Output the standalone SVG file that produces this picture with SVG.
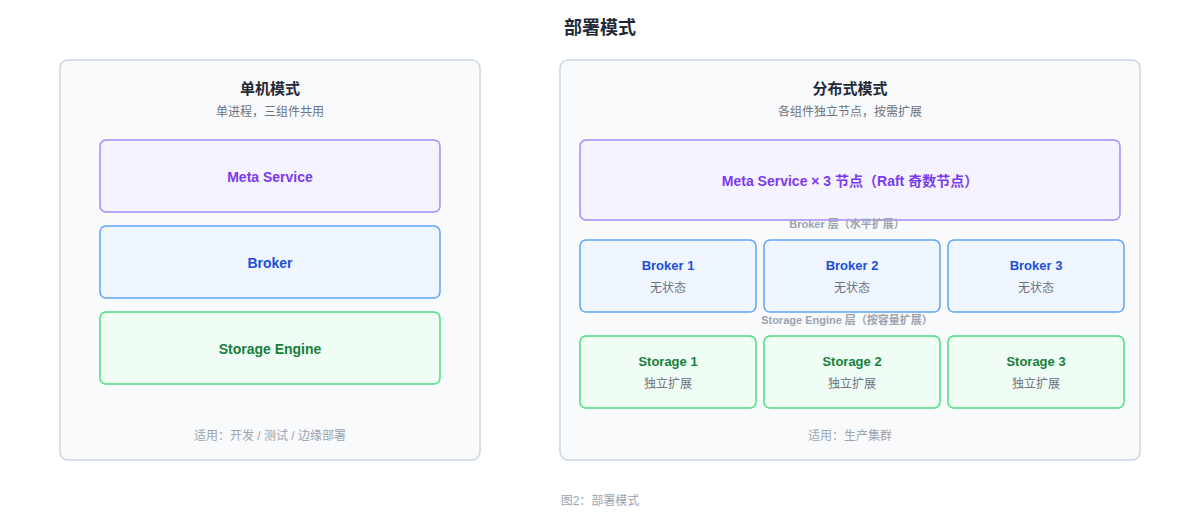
<svg xmlns="http://www.w3.org/2000/svg" width="1200" height="520" viewBox="0 0 1200 520">
<style>
text{font-family:"Liberation Sans","Noto Sans CJK SC",sans-serif;text-anchor:middle}
.panel{fill:#f8fafc;stroke:#cbd5e1;stroke-width:1.5}
.meta{fill:#f5f3ff;stroke:#a78bfa;stroke-width:1.5}
.brk{fill:#eff6ff;stroke:#60a5fa;stroke-width:1.5}
.sto{fill:#f0fdf4;stroke:#4ade80;stroke-width:1.5}
.h{font-size:15px;font-weight:bold;fill:#1f2937}
.sub{font-size:12px;fill:#6b7280}
.tm{font-size:14px;font-weight:bold;fill:#7c3aed}
.tb{font-size:14px;font-weight:bold;fill:#1d4ed8}
.ts{font-size:14px;font-weight:bold;fill:#15803d}
.t2{font-size:12px;fill:#6b7280}
.lay{font-size:11px;font-weight:bold;fill:#9ca3af}
.foot{font-size:12px;fill:#9ca3af}
</style>
<rect width="1200" height="520" fill="#fff"/>
<text x="600" y="34" style="font-size:18px;font-weight:bold;fill:#1f2937">部署模式</text>
<g id="standalone">
<rect class="panel" x="60" y="60" width="420" height="400" rx="8"/>
<text class="h" x="270" y="94">单机模式</text>
<text class="sub" x="270" y="116">单进程，三组件共用</text>
<text class="foot" x="270" y="440">适用：开发 / 测试 / 边缘部署</text>
</g>
<g id="s-meta"><rect class="meta" x="100" y="140" width="340" height="72" rx="6"/><text class="tm" x="270" y="182">Meta Service</text></g>
<g id="s-broker"><rect class="brk" x="100" y="226" width="340" height="72" rx="6"/><text class="tb" x="270" y="268">Broker</text></g>
<g id="s-storage"><rect class="sto" x="100" y="312" width="340" height="72" rx="6"/><text class="ts" x="270" y="354">Storage Engine</text></g>
<g id="distributed">
<rect class="panel" x="560" y="60" width="580" height="400" rx="8"/>
<text class="h" x="850" y="94">分布式模式</text>
<text class="sub" x="850" y="116">各组件独立节点，按需扩展</text>
<text class="foot" x="850" y="440">适用：生产集群</text>
</g>
<g id="d-meta"><rect class="meta" x="580" y="140" width="540" height="80" rx="6"/><text class="tm" x="850" y="186">Meta Service × 3 节点（Raft 奇数节点）</text></g>
<g id="broker-layer"><text class="lay" x="847" y="228">Broker 层（水平扩展）</text></g>
<g id="b1"><rect class="brk" x="580" y="240" width="176" height="72" rx="6"/><text class="tb" x="668" y="270" style="font-size:13px">Broker 1</text><text class="t2" x="668" y="292">无状态</text></g>
<g id="b2"><rect class="brk" x="764" y="240" width="176" height="72" rx="6"/><text class="tb" x="852" y="270" style="font-size:13px">Broker 2</text><text class="t2" x="852" y="292">无状态</text></g>
<g id="b3"><rect class="brk" x="948" y="240" width="176" height="72" rx="6"/><text class="tb" x="1036" y="270" style="font-size:13px">Broker 3</text><text class="t2" x="1036" y="292">无状态</text></g>
<g id="storage-layer"><text class="lay" x="847" y="324">Storage Engine 层（按容量扩展）</text></g>
<g id="st1"><rect class="sto" x="580" y="336" width="176" height="72" rx="6"/><text class="ts" x="668" y="366" style="font-size:13px">Storage 1</text><text class="t2" x="668" y="388">独立扩展</text></g>
<g id="st2"><rect class="sto" x="764" y="336" width="176" height="72" rx="6"/><text class="ts" x="852" y="366" style="font-size:13px">Storage 2</text><text class="t2" x="852" y="388">独立扩展</text></g>
<g id="st3"><rect class="sto" x="948" y="336" width="176" height="72" rx="6"/><text class="ts" x="1036" y="366" style="font-size:13px">Storage 3</text><text class="t2" x="1036" y="388">独立扩展</text></g>
<g id="connectors"/>
<text class="foot" x="600" y="505">图2：部署模式</text>
</svg>
